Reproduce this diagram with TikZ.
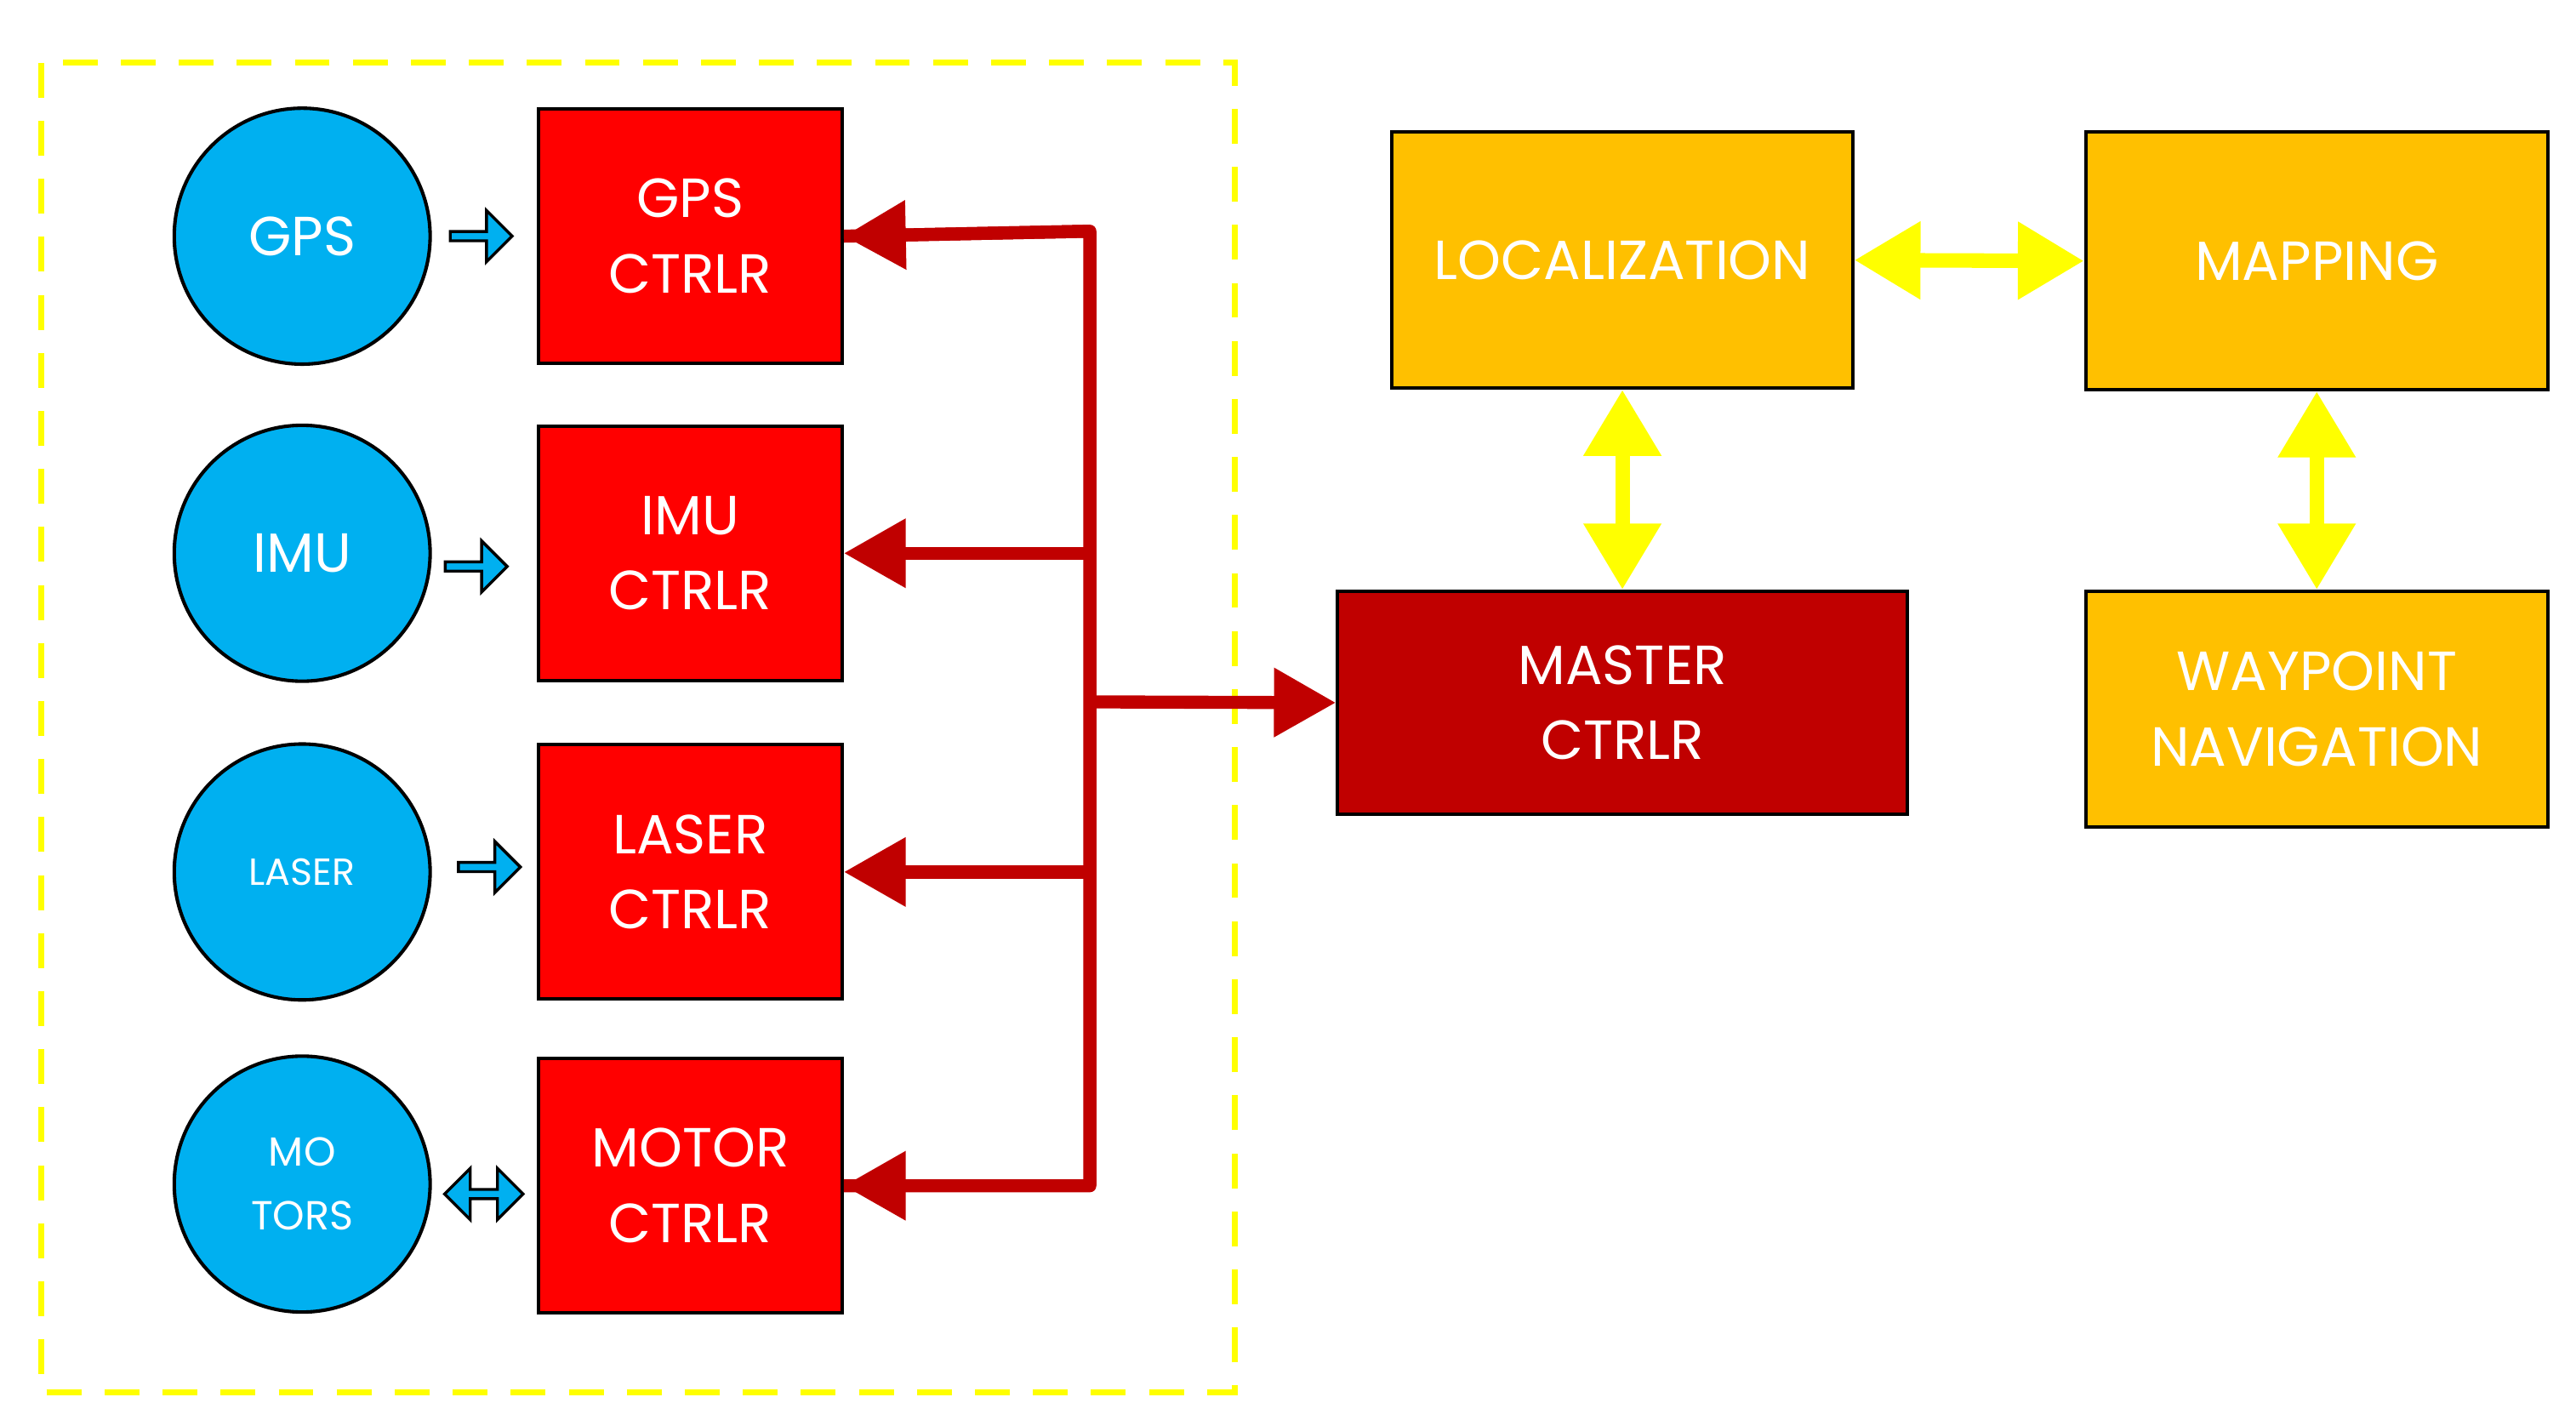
\documentclass[tikz,border=0pt]{standalone}
\usepackage{fontspec}
\setmainfont{Poppins}
\usetikzlibrary{shapes.arrows,arrows.meta}
\definecolor{cy}{HTML}{00B0F0}
\definecolor{rd}{HTML}{FF0000}
\definecolor{dr}{HTML}{C00000}
\definecolor{og}{HTML}{FFC000}
\definecolor{yl}{HTML}{FFFF00}
\begin{document}
\begin{tikzpicture}[x=0.02cm,y=-0.02cm,
  sens/.style={circle,fill=cy,draw=black,line width=1.2pt,minimum size=3.1cm,text=white,align=center,font=\fontsize{19}{23}\selectfont},
  ctl/.style={rectangle,fill=rd,draw=black,line width=1.2pt,minimum width=3.68cm,minimum height=3.08cm,text=white,align=center,font=\fontsize{19}{26}\selectfont},
  blk/.style={rectangle,fill=og,draw=black,line width=1.2pt,text=white,align=center,font=\fontsize{19}{26}\selectfont},
  sa/.style={single arrow,fill=cy,draw=black,line width=1pt,minimum height=0.75cm,minimum width=0.62cm,single arrow head extend=0.08cm,inner sep=0pt},
  bus/.style={draw=dr,line width=4.5pt},
  busa/.style={bus,-{Triangle[length=0.75cm,width=0.8cm]}},
  ya/.style={draw=yl,line width=5pt,{Triangle[length=0.8cm,width=0.9cm]}-{Triangle[length=0.8cm,width=0.9cm]}}]
\useasboundingbox (0,0) rectangle (1560,859.4);
\draw[yl,line width=2pt,dash pattern=on 12pt off 8pt] (25,38) rectangle (748,843);
\node[sens] (gps) at (183,143) {GPS};
\node[sens] (imu) at (183,335) {IMU};
\node[sens,font=\fontsize{13}{16}\selectfont] (las) at (183,528) {LASER};
\node[sens,font=\fontsize{14}{22}\selectfont] (mot) at (183,717) {MO\\TORS};
\node[ctl] (gc) at (418,143) {GPS\\CTRLR};
\node[ctl] (ic) at (418,335) {IMU\\CTRLR};
\node[ctl] (lc) at (418,528) {LASER\\CTRLR};
\node[ctl] (mc) at (418,718) {MOTOR\\CTRLR};
\node[sa] (a1) at (290,143) {};
\node[sa] (a2) at (287,343) {};
\node[sa] (a3) at (295,525) {};
\node[double arrow,fill=cy,draw=black,line width=1pt,minimum height=0.95cm,minimum width=0.62cm,double arrow head extend=0.08cm,inner sep=0pt] (a4) at (293,723) {};
\coordinate (t) at (660,140);
\coordinate (b) at (660,718);
\coordinate (j) at (660,425);
\draw[bus,line join=round] (gc.east) -- (t) -- (b) -- (mc.east);
\draw[busa] (t) -- (gc.east);
\draw[busa] (660,335) -- (ic.east);
\draw[busa] (660,528) -- (lc.east);
\draw[busa] (b) -- (mc.east);
\node[rectangle,fill=dr,draw=black,line width=1.2pt,minimum width=6.9cm,minimum height=2.7cm,text=white,align=center,font=\fontsize{19}{26}\selectfont] (ms) at (982.5,425.5) {MASTER\\CTRLR};
\draw[busa] (j) -- (ms.west);
\node[blk,minimum width=5.58cm,minimum height=3.1cm] (loc) at (982.5,157.5) {LOCALIZATION};
\node[blk,minimum width=5.6cm,minimum height=3.12cm] (map) at (1403,158) {MAPPING};
\node[blk,minimum width=5.6cm,minimum height=2.86cm] (wp) at (1403,429.5) {WAYPOINT\\NAVIGATION};
\draw[ya] (loc.east) -- (map.west);
\draw[ya] (loc.south) -- (ms.north);
\draw[ya] (map.south) -- (wp.north);
\end{tikzpicture}
\end{document}
